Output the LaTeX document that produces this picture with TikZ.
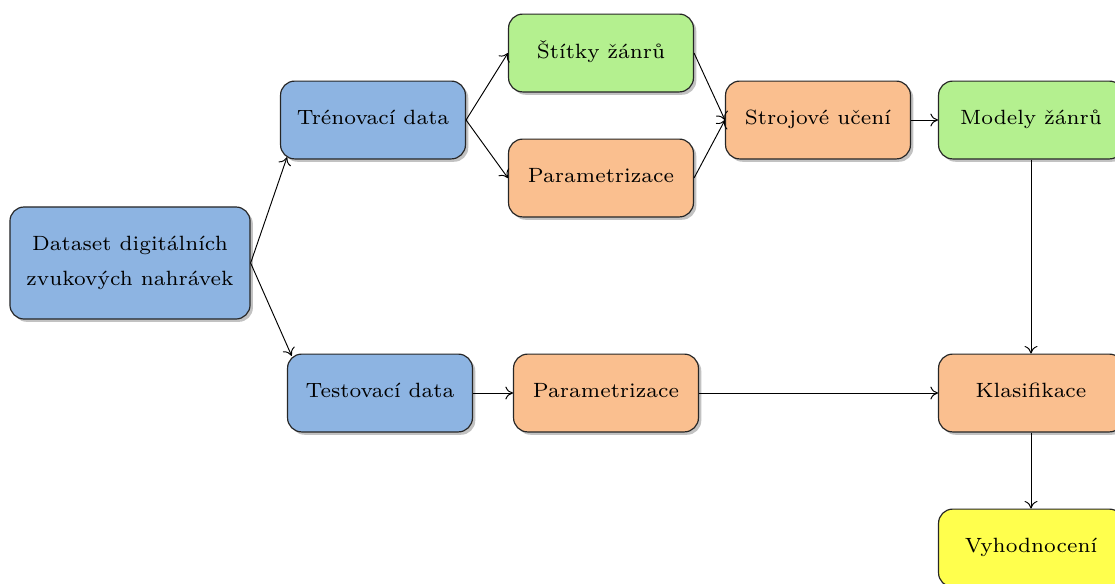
\documentclass[tikz,border=0pt]{standalone}
\usetikzlibrary{shadows,arrows.meta}
\definecolor{cblue}{RGB}{141,180,226}
\definecolor{cgreen}{RGB}{180,240,143}
\definecolor{corange}{RGB}{250,191,143}
\definecolor{cyellow}{RGB}{255,255,77}
\newcommand{\btext}[1]{\scalebox{1.25}{\scriptsize\begin{tabular}{@{}c@{}}#1\end{tabular}}}
\tikzset{
  box/.style={draw=black!85, line width=0.5pt, rounded corners=6pt, minimum width=78.4pt, minimum height=33pt, align=center, inner sep=2pt,
    drop shadow={shadow xshift=1.2pt, shadow yshift=-1.2pt, opacity=0.4, fill=black!60}},
  conn/.style={-{To[length=3.2pt,width=5.5pt]}, line width=0.4pt, black}
}
\begin{document}
\begin{tikzpicture}[x=0.424pt,y=-0.424pt]
\useasboundingbox (0,0) rectangle (1115,583);
\node[box, fill=cblue, minimum width=101.8pt, minimum height=47.5pt] (ds) at (130,263) {\btext{Dataset digitálních\\[4pt]zvukových nahrávek}};
\node[box, fill=cblue] (tr) at (373,120) {\btext{Trénovací data}};
\node[box, fill=cblue] (te) at (380,393) {\btext{Testovací data}};
\node[box, fill=cgreen] (st) at (601,53) {\btext{Štítky žánrů}};
\node[box, fill=corange] (p1) at (601,178) {\btext{Parametrizace}};
\node[box, fill=corange] (su) at (818,120) {\btext{Strojové učení}};
\node[box, fill=cgreen] (mz) at (1031,120) {\btext{Modely žánrů}};
\node[box, fill=corange] (p2) at (606,393) {\btext{Parametrizace}};
\node[box, fill=corange] (kl) at (1031,393) {\btext{Klasifikace}};
\node[box, fill=cyellow] (vy) at (1031,548) {\btext{Vyhodnocení}};
\draw[conn] (ds.east) -- ([xshift=3pt,yshift=1pt]tr.south west);
\draw[conn] (ds.east) -- ([xshift=2pt,yshift=-1pt]te.north west);
\draw[conn] (tr.east) -- (st.west);
\draw[conn] (tr.east) -- (p1.west);
\draw[conn] (st.east) -- (su.west);
\draw[conn] (p1.east) -- (su.west);
\draw[conn] (su.east) -- (mz.west);
\draw[conn] (mz.south) -- (kl.north);
\draw[conn] (te.east) -- (p2.west);
\draw[conn] (p2.east) -- (kl.west);
\draw[conn] (kl.south) -- (vy.north);
\end{tikzpicture}
\end{document}
